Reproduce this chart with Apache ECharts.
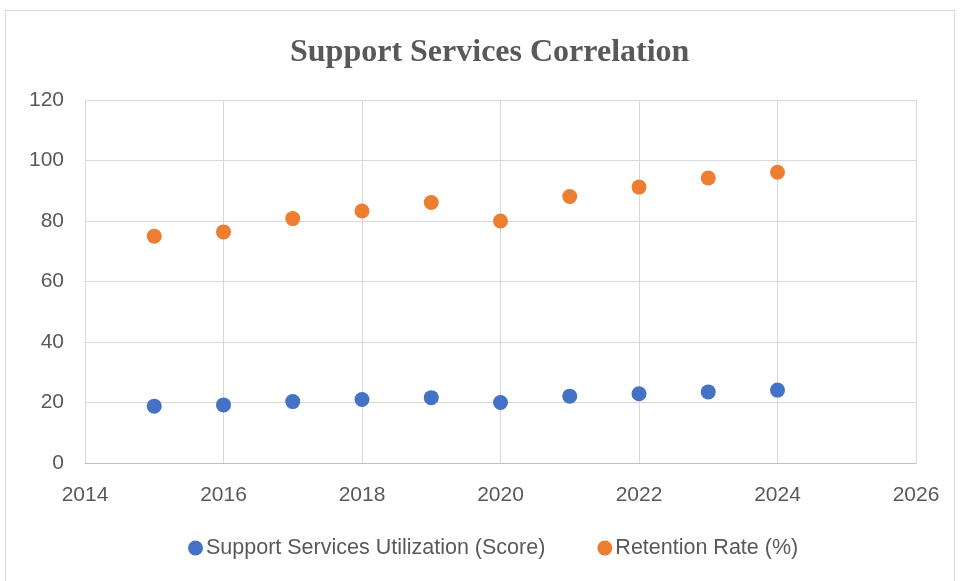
<!DOCTYPE html>
<html>
<head>
<meta charset="utf-8">
<script src="https://cdn.jsdelivr.net/npm/echarts@6/dist/echarts.min.js"></script>
<style>
  html, body { margin: 0; padding: 0; background: #fff; }
  .frame {
    position: absolute;
    left: 5px;
    top: 10px;
    width: 950px;
    height: 580px;
    border: 1px solid #d9d9d9;
    box-sizing: border-box;
  }
  #chart { position: absolute; left: 0; top: 0; width: 960px; height: 581px; }
</style>
</head>
<body>
<div class="frame"></div>
<div id="chart"></div>
<script>
// 数据
const years = [2015, 2016, 2017, 2018, 2019, 2020, 2021, 2022, 2023, 2024]
const utilization = [18.8, 19.2, 20.3, 21.0, 21.6, 20.0, 22.1, 22.9, 23.5, 24.1]
const retention = [75.0, 76.4, 80.8, 83.3, 86.1, 80.0, 88.1, 91.2, 94.2, 96.1]

const labelColor = '#595959'
const gridColor = '#d9d9d9'
const labelFont = 'Liberation Sans, Arial, sans-serif'

const chart = echarts.init(document.getElementById('chart'))
const option = {
  animation: false,
  title: {
    text: 'Support Services Correlation',
    left: 285,
    top: 32,
    textStyle: {
      fontFamily: 'Liberation Serif, Times New Roman, serif',
      fontSize: 32,
      fontWeight: 'bold',
      color: labelColor
    }
  },
  legend: {
    top: 532,
    left: 183,
    itemGap: 52,
    itemWidth: 15,
    itemHeight: 15,
    icon: 'circle',
    textStyle: { fontFamily: labelFont, fontSize: 21.5, color: labelColor, padding: [0, 0, 0, -2] },
    data: ['Support Services Utilization (Score)', 'Retention Rate (%)']
  },
  grid: { left: 85, right: 44, top: 100, bottom: 118 },
  xAxis: {
    type: 'value',
    min: 2014,
    max: 2026,
    interval: 2,
    axisLine: { show: true, lineStyle: { color: '#bfbfbf' } },
    axisTick: { show: false },
    axisLabel: {
      fontFamily: labelFont, fontSize: 21, color: labelColor, margin: 22,
      formatter: v => String(v)
    },
    splitLine: { show: true, lineStyle: { color: gridColor } }
  },
  yAxis: {
    type: 'value',
    min: 0,
    max: 120,
    interval: 20,
    axisLine: { show: false },
    axisTick: { show: false },
    axisLabel: { fontFamily: labelFont, fontSize: 21, color: labelColor, margin: 21 },
    splitLine: { show: true, lineStyle: { color: gridColor } }
  },
  series: [
    {
      name: 'Support Services Utilization (Score)',
      type: 'scatter',
      symbolSize: 15,
      itemStyle: { color: '#4472c4', opacity: 1 },
      data: years.map((y, i) => [y, utilization[i]])
    },
    {
      name: 'Retention Rate (%)',
      type: 'scatter',
      symbolSize: 15,
      itemStyle: { color: '#ed7d31', opacity: 1 },
      data: years.map((y, i) => [y, retention[i]])
    }
  ]
}
chart.setOption(option)
</script>
</body>
</html>
